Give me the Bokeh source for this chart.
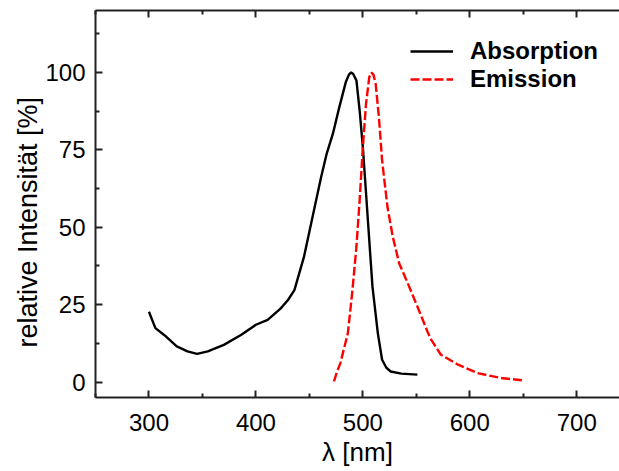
from bokeh.plotting import figure
from bokeh.models import LinearAxis, FixedTicker, Range1d, Legend, LegendItem, Title
from bokeh.embed import file_html
from bokeh.resources import INLINE

# Absorption spectrum (black solid)
abs_x = [300, 306, 316, 326, 336, 345, 355, 370, 386, 400, 411, 423, 430, 436, 445,
         455, 461, 466, 472, 478, 484, 487, 489, 491, 494, 497, 500, 503, 506, 509,
         514, 518, 522, 526, 536, 551]
abs_y = [22.7, 17.4, 14.7, 11.5, 9.9, 9.1, 9.9, 12.0, 15.2, 18.5, 20.1, 23.7, 26.5, 29.7, 40.5,
         56.6, 66.2, 73.5, 80.2, 88.8, 96.8, 99.3, 100, 99.5, 97.4, 87.7, 75.9, 60.9, 45.8, 30.8,
         15.8, 7.2, 4.6, 3.4, 2.7, 2.4]

# Emission spectrum (red dashed)
em_x = [473, 476, 479, 486, 490, 494, 497, 500, 503, 506, 508, 510, 512, 515, 518,
        523, 528, 534, 542, 551, 561, 564, 573, 589, 607, 629, 651]
em_y = [0.2, 3.5, 6.1, 15.8, 28.7, 43.7, 58.7, 75.9, 89.9, 98.5, 100, 99.2, 96.3, 85.6, 71.6,
        56.6, 46.9, 38.3, 31.9, 24.4, 15.8, 13.6, 8.8, 5.6, 2.9, 1.3, 0.5]

x_ticks = [300, 400, 500, 600, 700]
x_minor = [250, 350, 450, 550, 650, 750]
y_ticks = [0, 25, 50, 75, 100]
y_minor = [12.5, 37.5, 62.5, 87.5, 112.5]

FONT = "Liberation Sans"

p = figure(width=619, height=471, output_backend="svg", toolbar_location=None,
           x_range=Range1d(250, 740), y_range=Range1d(-5, 120),
           x_axis_type=None, y_axis_type=None,
           min_border_left=95, min_border_right=0, min_border_top=10, min_border_bottom=74)
p.outline_line_color = None
p.xgrid.visible = False
p.ygrid.visible = False
p.background_fill_color = "white"
p.border_fill_color = "white"

def style_axis(ax):
    ax.axis_line_width = 2
    ax.axis_line_color = "#222222"
    ax.major_tick_line_width = 2
    ax.minor_tick_line_width = 2
    ax.major_tick_line_color = "#222222"
    ax.minor_tick_line_color = "#222222"
    ax.major_tick_in = 7
    ax.major_tick_out = 0
    ax.minor_tick_in = 4
    ax.minor_tick_out = 0
    ax.major_label_text_font = FONT
    ax.major_label_text_font_size = "24px"
    ax.major_label_text_color = "black"
    ax.axis_label_text_font = FONT
    ax.axis_label_text_font_size = "26px"
    ax.axis_label_text_font_style = "normal"
    ax.axis_label_text_color = "black"

xb = LinearAxis(ticker=FixedTicker(ticks=x_ticks, minor_ticks=x_minor), axis_label="λ [nm]")
style_axis(xb)
xb.major_label_standoff = 16
xb.axis_label_standoff = 3
p.add_layout(xb, "below")

xt = LinearAxis(ticker=FixedTicker(ticks=x_ticks, minor_ticks=x_minor))
style_axis(xt)
xt.major_label_overrides = {t: "" for t in x_ticks}
xt.major_label_text_font_size = "1px"
xt.major_label_standoff = 0
p.add_layout(xt, "above")

yl = LinearAxis(ticker=FixedTicker(ticks=y_ticks, minor_ticks=y_minor))
style_axis(yl)
yl.major_label_standoff = 10
p.add_layout(yl, "left")

ytitle = Title(text="relative Intensität [%]", align="left", offset=50,
               text_font=FONT, text_font_size="27px", text_font_style="normal",
               text_color="black", standoff=0)
p.add_layout(ytitle, "left")

r1 = p.line(abs_x, abs_y, line_color="black", line_width=2.4)
r2 = p.line(em_x, em_y, line_color="#ff0000", line_width=2.4, line_dash="9 3")

legend = Legend(items=[LegendItem(label="Absorption", renderers=[r1]),
                       LegendItem(label="Emission", renderers=[r2])],
                location=(315, 304))
legend.background_fill_alpha = 0
legend.border_line_color = None
legend.padding = 0
legend.margin = 0
legend.spacing = 0
legend.glyph_width = 43
legend.glyph_height = 26
legend.label_height = 26
legend.label_standoff = 17
legend.label_text_font = FONT
legend.label_text_font_style = "bold"
legend.label_text_font_size = "24px"
legend.label_text_color = "black"
p.add_layout(legend)

open("out.html", "w").write(file_html(p, INLINE))
